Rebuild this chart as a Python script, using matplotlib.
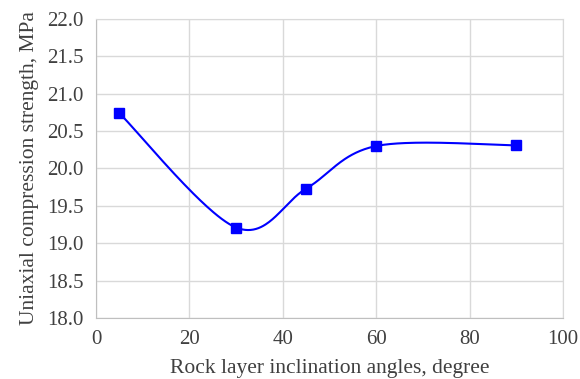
import numpy as np
import matplotlib.pyplot as plt

angles = [5, 30, 45, 60, 90]
strength = [20.74, 19.21, 19.73, 20.30, 20.31]

plt.rcParams['font.family'] = ['Liberation Serif', 'DejaVu Serif']

# excel-style smoothed line (bezier through points)
x = np.array(angles, dtype=float)
y = np.array(strength, dtype=float)
px = np.concatenate([[x[0]], x, [x[-1]]])
py = np.concatenate([[y[0]], y, [y[-1]]])
t = np.linspace(0, 1, 60)
sx, sy = [], []
for i in range(1, len(px) - 2):
    p0 = np.array([px[i], py[i]])
    p3 = np.array([px[i + 1], py[i + 1]])
    p1 = p0 + (np.array([px[i + 1], py[i + 1]]) - np.array([px[i - 1], py[i - 1]])) / 6
    p2 = p3 - (np.array([px[i + 2], py[i + 2]]) - np.array([px[i], py[i]])) / 6
    b = ((1 - t) ** 3)[:, None] * p0 + (3 * (1 - t) ** 2 * t)[:, None] * p1 \
        + (3 * (1 - t) * t ** 2)[:, None] * p2 + (t ** 3)[:, None] * p3
    sx.extend(b[:, 0])
    sy.extend(b[:, 1])

fig = plt.figure(figsize=(5.8, 3.79), dpi=100)
ax = fig.add_axes([0.1655, 0.161, 0.805, 0.789])
ax.plot(sx, sy, color='#0000ff', lw=1.5, zorder=3)
ax.plot(angles, strength, 's', color='#0000ff', ms=7, zorder=4)

ax.set_xlim(0, 100)
ax.set_ylim(18, 22)
ax.set_xticks(np.arange(0, 101, 20))
ax.set_yticks(np.arange(18, 22.01, 0.5))
ax.set_yticklabels([f'{v:.1f}' for v in np.arange(18, 22.01, 0.5)])
ax.grid(True, color='#d9d9d9', lw=1)
ax.set_axisbelow(True)
for s in ['top', 'right']:
    ax.spines[s].set_color('#d9d9d9')
for s in ['left', 'bottom']:
    ax.spines[s].set_color('#bfbfbf')
ax.tick_params(length=0, labelsize=15, colors='#404040', pad=9)
ax.set_xlabel('Rock layer inclination angles, degree', fontsize=15.5, color='#404040', labelpad=7)
ax.set_ylabel('Uniaxial compression strength, MPa', fontsize=15.5, color='#404040', labelpad=6)

fig.savefig('out.png', dpi=100)
